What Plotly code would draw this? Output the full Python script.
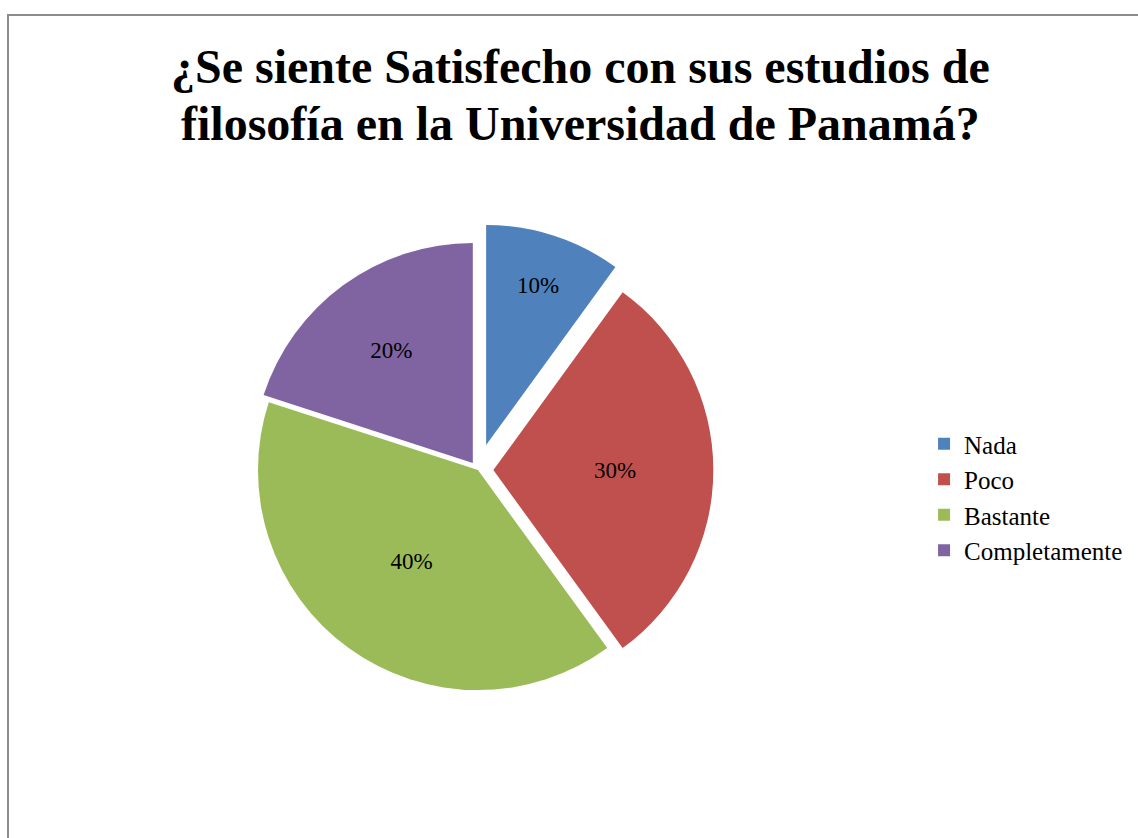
import plotly.graph_objects as go

categories = ["Nada", "Poco", "Bastante", "Completamente"]
values = [10, 30, 40, 20]
colors = ["#4F81BD", "#C0504D", "#9BBB59", "#8064A2"]
pulls = [0.12, 0.07, 0.0, 0.04]

title_lines = [
    "¿Se siente Satisfecho con sus estudios de",
    "filosofía en la Universidad de Panamá?",
]

W, H = 1138, 838

fig = go.Figure(
    go.Pie(
        labels=categories,
        values=values,
        sort=False,
        direction="clockwise",
        rotation=0,
        pull=pulls,
        marker=dict(colors=colors, line=dict(width=0)),
        textinfo="percent",
        textposition="inside",
        insidetextorientation="horizontal",
        textfont=dict(family="Liberation Serif", size=23, color="black"),
        domain=dict(x=[0.2035, 0.6365], y=[0.145, 0.733]),
        hoverinfo="label+percent",
    )
)

annotations = []
for text, ypix in zip(title_lines, [67, 123]):
    annotations.append(
        dict(
            text="<b>" + text + "</b>",
            xref="paper",
            yref="paper",
            x=580 / W,
            y=1 - ypix / H,
            xanchor="center",
            yanchor="middle",
            showarrow=False,
            font=dict(family="Liberation Serif", size=48, color="black"),
        )
    )

fig.update_layout(
    width=W,
    height=H,
    margin=dict(l=0, r=0, t=0, b=0),
    paper_bgcolor="white",
    plot_bgcolor="white",
    annotations=annotations,
    legend=dict(
        x=0.812,
        xanchor="left",
        y=1 - 497 / H,
        yanchor="middle",
        font=dict(family="Liberation Serif", size=25, color="black"),
        bgcolor="rgba(0,0,0,0)",
    ),
    shapes=[
        dict(
            type="rect",
            xref="paper",
            yref="paper",
            x0=8 / W,
            x1=1.02,
            y0=-0.02,
            y1=1 - 15 / H,
            line=dict(color="#8c8c8c", width=2),
            fillcolor="rgba(0,0,0,0)",
            layer="below",
        )
    ],
)

fig.write_html(
    "out.html",
    config={"displayModeBar": False},
    post_script="document.body.style.margin='0px';document.body.style.overflow='hidden';",
)
